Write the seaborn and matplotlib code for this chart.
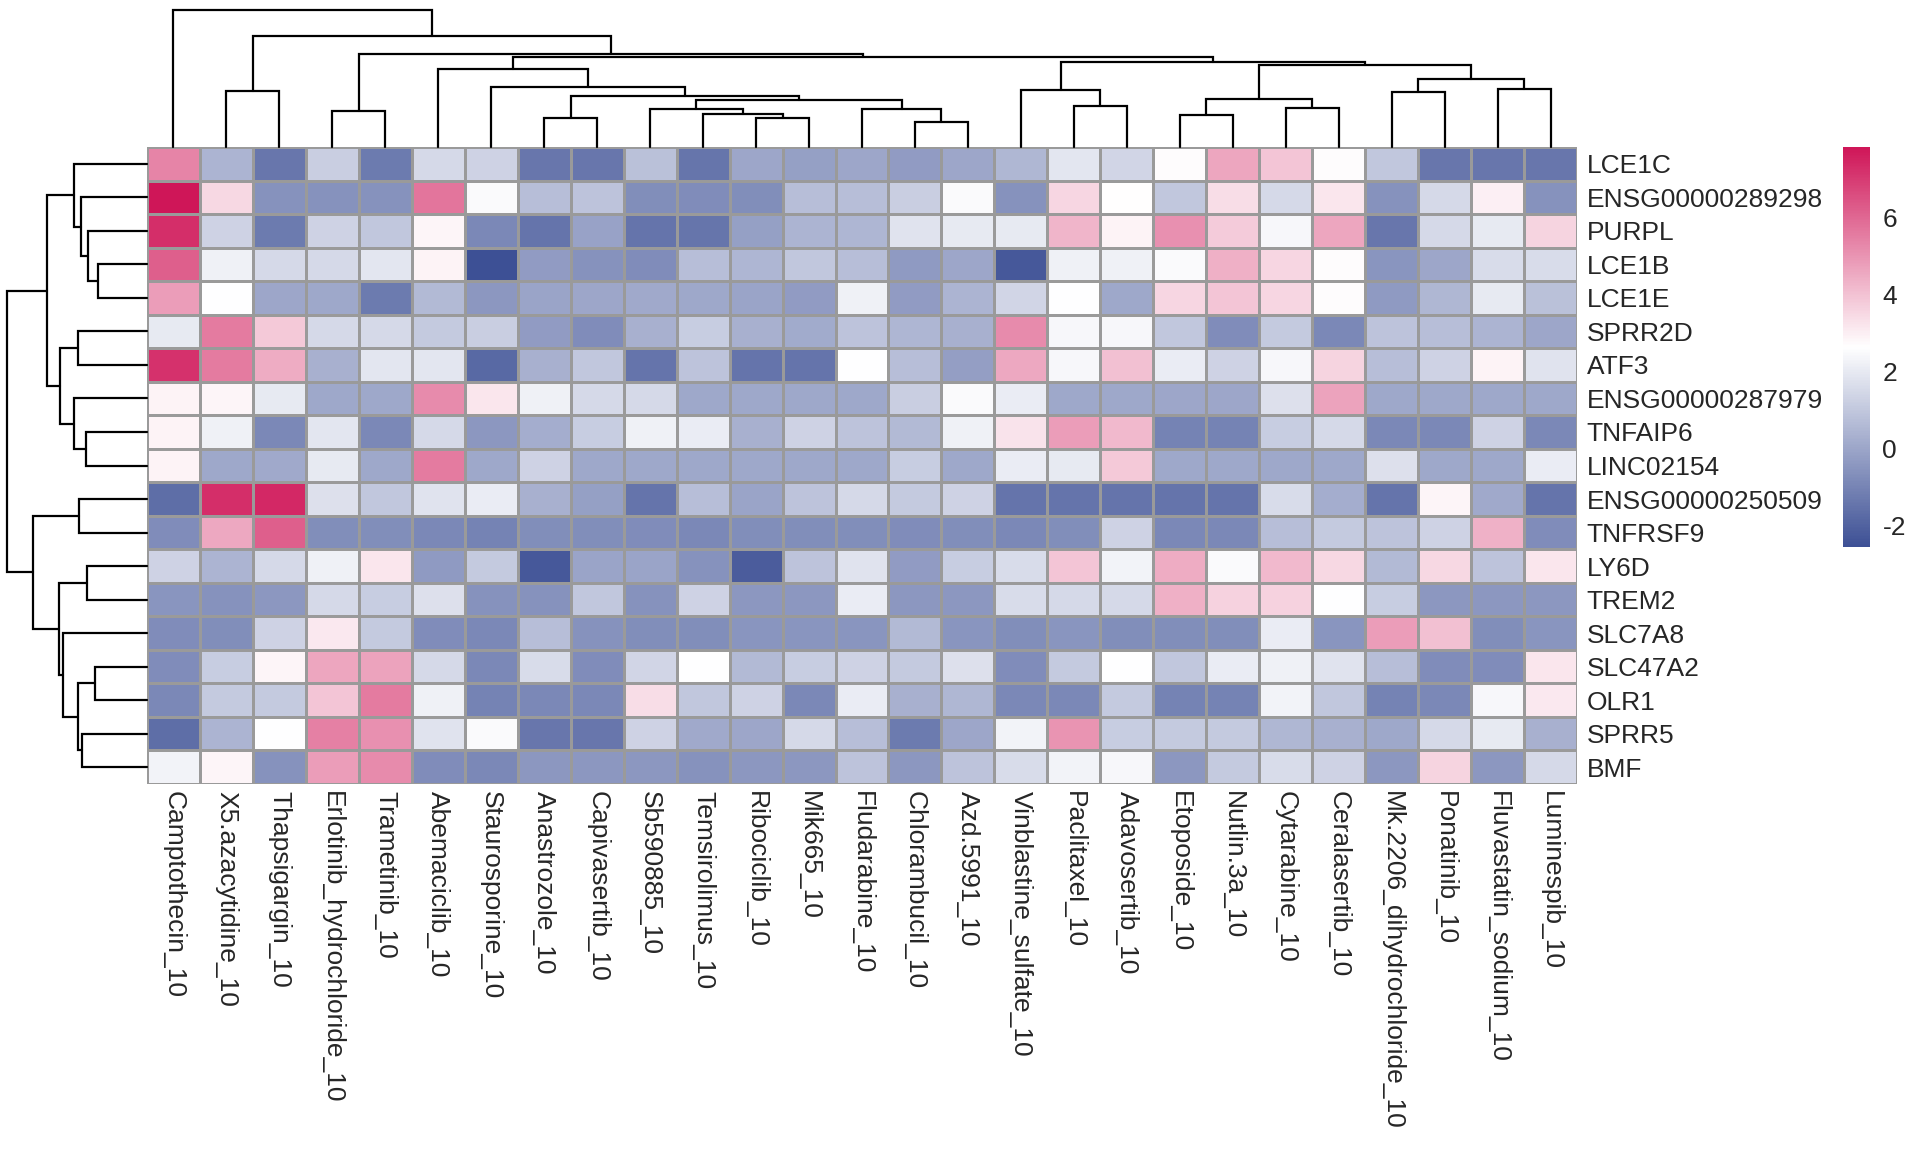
import numpy as np
import pandas as pd
import matplotlib
matplotlib.use("Agg")
import matplotlib.pyplot as plt
import seaborn as sns
from matplotlib.colors import LinearSegmentedColormap

sns.set_style("white")
plt.rcParams['font.family'] = ['Liberation Sans', 'DejaVu Sans']
plt.rcParams['axes.unicode_minus'] = False

# ---------------- data ----------------
drugs = ["Camptothecin_10", "X5.azacytidine_10", "Thapsigargin_10", "Erlotinib_hydrochloride_10",
         "Trametinib_10", "Abemaciclib_10", "Staurosporine_10", "Anastrozole_10", "Capivasertib_10",
         "Sb590885_10", "Temsirolimus_10", "Ribociclib_10", "Mik665_10", "Fludarabine_10",
         "Chlorambucil_10", "Azd.5991_10", "Vinblastine_sulfate_10", "Paclitaxel_10",
         "Adavosertib_10", "Etoposide_10", "Nutlin.3a_10", "Cytarabine_10", "Ceralasertib_10",
         "Mk.2206_dihydrochloride_10", "Ponatinib_10", "Fluvastatin_sodium_10", "Luminespib_10"]

genes = ["LCE1C", "ENSG00000289298", "PURPL", "LCE1B", "LCE1E", "SPRR2D", "ATF3",
         "ENSG00000287979", "TNFAIP6", "LINC02154", "ENSG00000250509", "TNFRSF9", "LY6D",
         "TREM2", "SLC7A8", "SLC47A2", "OLR1", "SPRR5", "BMF"]

v_LCE1C = [5.4, 0.4, -1.4, 1.2, -1.3, 1.5, 1.3, -1.4, -1.4, 0.8, -1.45, 0.0, -0.2, 0.0, -0.3, 0.0, 0.5, 1.9, 1.4, 2.7, 4.6, 3.9, 2.7, 1.0, -1.4, -1.4, -1.4]
v_ENSG289298 = [7.84, 3.5, -0.6, -0.6, -0.6, 5.7, 2.5, 0.7, 0.85, -0.7, -0.75, -0.7, 0.7, 0.7, 1.2, 2.5, -0.6, 3.55, 2.65, 1.0, 3.4, 1.5, 3.2, -0.6, 1.5, 3.0, -0.6]
v_PURPL = [7.3, 1.3, -1.3, 1.3, 1.0, 2.85, -0.9, -1.5, -0.1, -1.5, -1.45, -0.2, 0.4, 0.45, 1.8, 2.0, 2.0, 4.3, 2.9, 5.1, 3.8, 2.4, 4.6, -1.4, 1.5, 2.0, 3.6]
v_LCE1B = [6.2, 2.2, 1.5, 1.5, 1.9, 2.9, -2.57, -0.3, -0.6, -0.75, 0.7, 0.45, 1.0, 0.7, -0.35, 0.0, -2.3, 2.2, 2.2, 2.5, 4.4, 3.55, 2.7, -0.5, 0.0, 1.6, 1.6]
v_LCE1E = [4.8, 2.6, 0.0, 0.05, -1.3, 0.6, -0.45, -0.05, 0.0, 0.1, 0.05, -0.05, -0.3, 2.2, -0.3, 0.4, 1.4, 2.6, 0.05, 3.55, 3.9, 3.55, 2.7, -0.35, 0.5, 2.0, 0.8]
v_SPRR2D = [2.0, 5.6, 3.85, 1.5, 1.5, 1.05, 1.2, -0.3, -0.75, 0.3, 1.15, 0.3, 0.15, 0.85, 0.45, 0.3, 5.2, 2.4, 2.4, 1.0, -0.75, 1.05, -0.9, 0.85, 0.7, 0.4, 0.0]
v_ATF3 = [7.2, 5.6, 4.5, 0.3, 1.9, 1.9, -1.8, 0.3, 1.0, -1.5, 0.85, -1.5, -1.5, 2.6, 0.7, -0.25, 4.55, 2.4, 4.05, 2.1, 1.3, 2.4, 3.6, 0.7, 1.3, 2.9, 1.8]
v_ENSG287979 = [2.9, 2.85, 2.0, 0.05, 0.05, 5.2, 3.2, 2.2, 1.5, 1.5, 0.05, 0.05, 0.05, 0.05, 1.2, 2.5, 2.1, 0.05, 0.05, 0.0, 0.0, 1.7, 4.7, 0.05, 0.05, 0.05, 0.05]
v_TNFAIP6 = [2.9, 2.2, -0.9, 1.9, -0.9, 1.5, -0.45, 0.2, 1.15, 2.2, 2.1, 0.3, 1.3, 0.85, 0.6, 2.2, 3.25, 4.8, 4.2, -1.05, -1.05, 1.15, 1.5, -0.9, -0.9, 1.3, -0.9]
v_LINC02154 = [2.9, 0.05, 0.1, 2.0, 0.05, 5.6, 0.05, 1.3, 0.05, 0.05, 0.05, 0.05, 0.05, 0.05, 1.15, 0.05, 2.1, 2.0, 3.85, 0.05, 0.05, 0.05, 0.05, 1.7, 0.05, 0.05, 2.1]
v_ENSG250509 = [-1.65, 7.3, 7.4, 1.7, 1.0, 1.8, 2.1, 0.3, -0.2, -1.5, 0.7, -0.05, 0.85, 1.5, 1.05, 1.3, -1.5, -1.5, -1.5, -1.5, -1.5, 1.6, 0.2, -1.5, 2.85, 0.1, -1.5]
v_TNFRSF9 = [-0.75, 4.55, 6.2, -0.7, -0.7, -0.9, -1.05, -0.7, -0.7, -0.75, -0.9, -0.7, -0.7, -0.7, -0.75, -0.7, -0.9, -0.7, 1.3, -0.9, -0.9, 0.7, 1.05, 0.85, 1.3, 4.35, -0.75]
v_LY6D = [1.3, 0.4, 1.5, 2.2, 3.2, -0.35, 1.05, -2.3, -0.05, -0.05, -0.6, -2.2, 0.85, 1.8, -0.3, 1.15, 1.6, 3.9, 2.3, 4.5, 2.5, 4.2, 3.5, 0.6, 3.5, 0.85, 3.2]
v_TREM2 = [-0.5, -0.6, -0.45, 1.5, 1.15, 1.7, -0.6, -0.6, 1.0, -0.6, 1.3, -0.45, -0.45, 2.1, -0.45, -0.45, 1.6, 1.5, 1.5, 4.4, 3.65, 3.65, 2.6, 1.15, -0.45, -0.45, -0.45]
v_SLC7A8 = [-0.75, -0.7, 1.3, 3.15, 1.05, -0.75, -0.9, 0.7, -0.6, -0.7, -0.7, -0.5, -0.5, -0.5, 0.6, -0.5, -0.7, -0.5, -0.7, -0.7, -0.7, 2.1, -0.5, 4.8, 4.05, -0.7, -0.5]
v_SLC47A2 = [-0.75, 1.15, 2.85, 4.6, 4.7, 1.5, -0.9, 1.6, -0.75, 1.4, 2.6, 0.6, 1.15, 1.3, 1.05, 1.7, -0.75, 1.05, 2.6, 1.0, 2.1, 2.2, 1.8, 0.7, -0.75, -0.75, 3.2]
v_OLR1 = [-0.9, 1.05, 1.05, 3.9, 5.6, 2.2, -1.05, -0.9, -0.9, 3.4, 1.0, 1.3, -0.9, 2.1, 0.3, 0.5, -0.9, -0.9, 1.05, -1.05, -1.05, 2.3, 1.0, -1.05, -0.9, 2.4, 3.15]
v_SPRR5 = [-1.65, 0.4, 2.6, 5.45, 5.1, 1.8, 2.5, -1.4, -1.4, 1.3, 0.1, 0.0, 1.5, 0.7, -1.3, 0.0, 2.3, 5.0, 1.15, 1.05, 1.05, 0.5, 0.3, 0.05, 1.5, 2.0, 0.3]
v_BMF = [2.3, 2.85, -0.6, 4.8, 5.2, -0.75, -0.9, -0.45, -0.45, -0.45, -0.6, -0.45, -0.45, 0.85, -0.45, 0.85, 1.6, 2.3, 2.4, -0.45, 1.05, 1.6, 1.3, -0.45, 3.6, -0.45, 1.5]

# dendrogram merges (leaf i = i-th displayed item; node n+k = k-th merge), heights relative to root
col_left = [14, 11, 7, 19, 10, 3, 9, 13, 21, 17, 33, 30, 29, 23, 1, 16, 25, 6, 40, 5, 38, 42, 46, 32, 41, 0]
col_right = [15, 12, 8, 20, 28, 4, 31, 27, 22, 18, 34, 35, 37, 24, 2, 36, 26, 39, 43, 44, 45, 47, 48, 49, 50, 51]
col_height = [0.185, 0.209, 0.213, 0.233, 0.242, 0.261, 0.281, 0.281, 0.285, 0.297, 0.345, 0.353,
              0.369, 0.405, 0.412, 0.417, 0.424, 0.436, 0.496, 0.568, 0.597, 0.621, 0.657, 0.676,
              0.808, 1.0]

row_left = [3, 15, 2, 12, 8, 17, 1, 10, 5, 20, 7, 0, 14, 27, 22, 30, 26, 34]
row_right = [4, 16, 19, 13, 9, 18, 21, 11, 6, 24, 23, 25, 28, 29, 31, 32, 33, 35]
row_height = [0.352, 0.374, 0.424, 0.429, 0.438, 0.464, 0.471, 0.483, 0.493, 0.495, 0.521,
              0.524, 0.602, 0.624, 0.626, 0.714, 0.814, 1.0]

# ---------------- build ----------------
rows = [v_LCE1C, v_ENSG289298, v_PURPL, v_LCE1B, v_LCE1E, v_SPRR2D, v_ATF3, v_ENSG287979,
        v_TNFAIP6, v_LINC02154, v_ENSG250509, v_TNFRSF9, v_LY6D, v_TREM2, v_SLC7A8,
        v_SLC47A2, v_OLR1, v_SPRR5, v_BMF]
df = pd.DataFrame(rows, index=genes, columns=drugs)

W, H = 1920, 1152
fig = plt.figure(figsize=(W / 100, H / 100), dpi=100)

def box(x0, y0, x1, y1):
    return [x0 / W, 1 - y1 / H, (x1 - x0) / W, (y1 - y0) / H]

hm_x0, hm_y0, hm_x1, hm_y1 = 147, 147, 1577, 784
ax = fig.add_axes(box(hm_x0, hm_y0, hm_x1, hm_y1))
cax = fig.add_axes(box(1843, 147, 1870, 547))
ax_col = fig.add_axes(box(hm_x0, 10, hm_x1, hm_y0))
ax_row = fig.add_axes(box(7, hm_y0, hm_x0, hm_y1))

cmap = LinearSegmentedColormap.from_list("bwr_custom", ["#3D5095", "#FFFFFF", "#CF1658"], N=256)

sns.heatmap(df, ax=ax, cmap=cmap, linewidths=1.0, linecolor="#9A9A9A",
            cbar_ax=cax, xticklabels=True, yticklabels=True)

fs = 19
ax.yaxis.tick_right()
ax.set_yticklabels(genes, rotation=0, ha="left", fontsize=fs)
ax.set_xticklabels(drugs, rotation=270, ha="center", va="top", fontsize=fs)
ax.tick_params(axis="y", length=0, pad=7)
ax.tick_params(axis="x", length=0, pad=5)
ax.set_xlabel("")
ax.set_ylabel("")

cbar = ax.collections[0].colorbar
cbar.outline.set_visible(False)
cbar.set_ticks([-2, 0, 2, 4, 6])
cbar.ax.tick_params(length=0, pad=9, labelsize=fs)


def draw_dendro(dax, left, right, height, n, orient):
    pos = {i: i + 0.5 for i in range(n)}
    hgt = {i: 0.0 for i in range(n)}
    for k, (a, b, h) in enumerate(zip(left, right, height)):
        xa, xb = pos[a], pos[b]
        ha_, hb_ = hgt[a], hgt[b]
        if orient == "top":
            dax.plot([xa, xa, xb, xb], [ha_, h, h, hb_], color="black", lw=1.6,
                     clip_on=False, solid_joinstyle="miter")
        else:
            dax.plot([ha_, h, h, hb_], [xa, xa, xb, xb], color="black", lw=1.6,
                     clip_on=False, solid_joinstyle="miter")
        pos[n + k] = (xa + xb) / 2
        hgt[n + k] = h


draw_dendro(ax_col, col_left, col_right, col_height, len(drugs), "top")
ax_col.set_xlim(0, len(drugs))
ax_col.set_ylim(0, 1.0)
ax_col.axis("off")

draw_dendro(ax_row, row_left, row_right, row_height, len(genes), "left")
ax_row.set_ylim(len(genes), 0)
ax_row.set_xlim(1.0, 0)
ax_row.axis("off")

fig.savefig("out.png", dpi=100, facecolor="white")
